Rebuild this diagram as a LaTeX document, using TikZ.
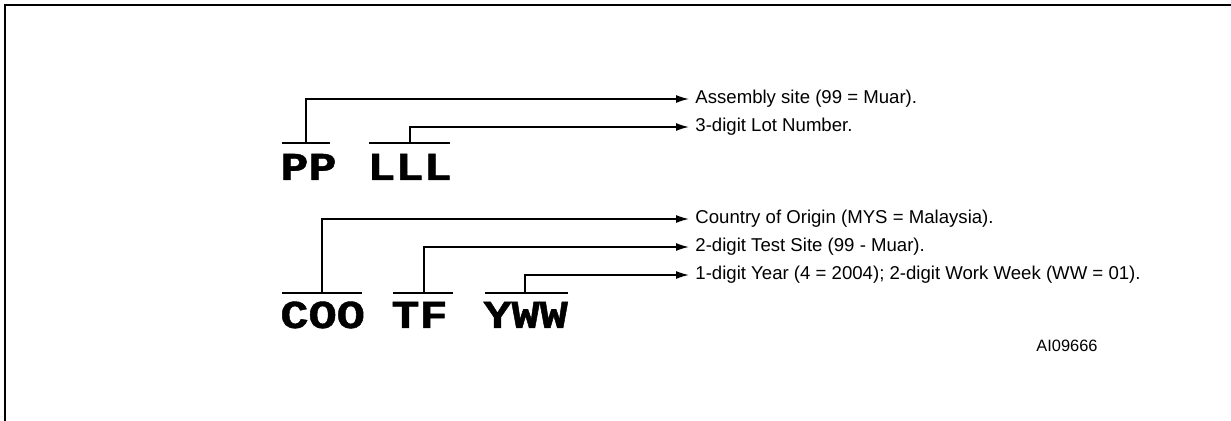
\documentclass[tikz,border=0pt]{standalone}
\usepackage{fontspec}
\usepackage{graphicx}
\setmainfont{Liberation Sans}
\newfontfamily\codefont{Liberation Mono}[BoldFeatures={FakeBold=1.0}]
\usetikzlibrary{arrows.meta}
\newcommand{\codetext}[1]{\scalebox{1.02}[0.86]{#1}}
\tikzset{
  code/.style={font=\codefont\bfseries\fontsize{23}{28}\selectfont, inner sep=0pt, anchor=base west},
  lbl/.style={font=\fontsize{9.3}{11}\selectfont, inner ysep=0pt, inner xsep=3pt, anchor=west},
  note/.style={font=\fontsize{8.2}{10}\selectfont, inner sep=0pt, anchor=west},
  bar/.style={line width=0.8pt},
  conn/.style={line width=0.75pt, -{Latex[length=6.5pt,width=4pt]}},
  frame/.style={line width=1.1pt}
}
\begin{document}
\begin{tikzpicture}[x=0.5pt,y=-0.5pt]
\useasboundingbox (0,0) rectangle (1231,421);
% frame
\draw[frame] (5,421) -- (5,5) -- (1231,5);
% code groups
\node[code] (pp)  at (280,180) {\codetext{PP}};
\node[code] (lll) at (367,180) {\codetext{LLL}};
\node[code] (coo) at (280,328) {\codetext{COO}};
\node[code] (tf)  at (391,328) {\codetext{TF}};
\node[code] (yww) at (483,328) {\codetext{YWW}};
% bars
\draw[bar] (282,143) -- (330,143);
\draw[bar] (369,143) -- (450,143);
\draw[bar] (282,293) -- (362,293);
\draw[bar] (393,293) -- (453,293);
\draw[bar] (485,293) -- (568,293);
\coordinate (ppb)  at (306,143);
\coordinate (lllb) at (410,143);
\coordinate (coob) at (322,293);
\coordinate (tfb)  at (424,293);
\coordinate (ywwb) at (525,293);
% labels
\node[lbl] (l1) at (689,99)  {Assembly site (99 = Muar).};
\node[lbl] (l2) at (689,127) {3-digit Lot Number.};
\node[lbl] (l3) at (689,219) {Country of Origin (MYS = Malaysia).};
\node[lbl] (l4) at (689,247) {2-digit Test Site (99 - Muar).};
\node[lbl] (l5) at (689,275) {1-digit Year (4 = 2004); 2-digit Work Week (WW = 01).};
\node[note] (ai) at (1036,346) {AI09666};
% connectors
\draw[conn] (ppb) |- (l1.west);
\draw[conn] (lllb) |- (l2.west);
\draw[conn] (coob) |- (l3.west);
\draw[conn] (tfb) |- (l4.west);
\draw[conn] (ywwb) |- (l5.west);
\end{tikzpicture}
\end{document}
